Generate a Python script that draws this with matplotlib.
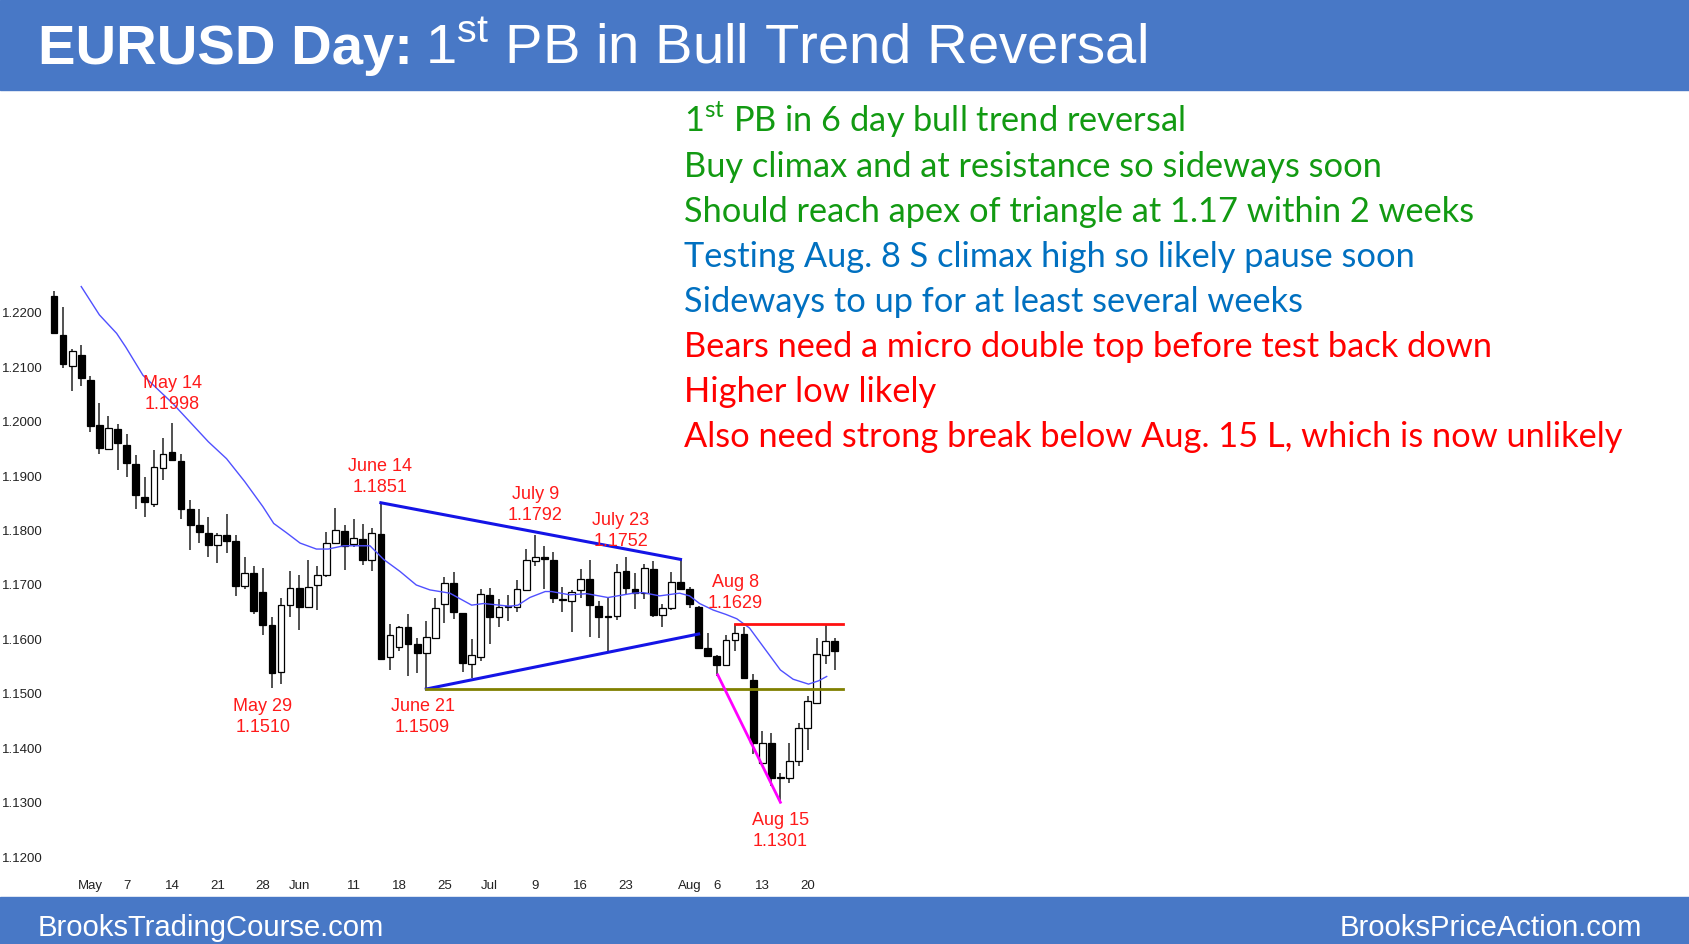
import matplotlib
matplotlib.use("Agg")
import matplotlib.pyplot as plt
from matplotlib.patches import Rectangle

# ---------- data (EURUSD daily, Apr 25 - Aug 23 2018) ----------
opens = [1.2231, 1.2159, 1.2103, 1.2122, 1.2076, 1.1993, 1.1949, 1.1986, 1.1957, 1.1922,
         1.1861, 1.1848, 1.1915, 1.1944, 1.1928, 1.1839, 1.1810, 1.1796, 1.1774, 1.1792,
         1.1780, 1.1698, 1.1722, 1.1688, 1.1626, 1.1541, 1.1663, 1.1694, 1.1660, 1.1700,
         1.1718, 1.1777, 1.1800, 1.1775, 1.1785, 1.1745, 1.1793, 1.1567, 1.1587, 1.1623,
         1.1591, 1.1575, 1.1603, 1.1665, 1.1703, 1.1648, 1.1555, 1.1568, 1.1682, 1.1641,
         1.1660, 1.1659, 1.1691, 1.1744, 1.1752, 1.1746, 1.1674, 1.1671, 1.1690, 1.1711,
         1.1662, 1.1643, 1.1643, 1.1726, 1.1692, 1.1685, 1.1729, 1.1645, 1.1657, 1.1706,
         1.1692, 1.1660, 1.1585, 1.1570, 1.1554, 1.1599, 1.1610, 1.1526, 1.1374, 1.1410,
         1.1347, 1.1345, 1.1376, 1.1438, 1.1483, 1.1571, 1.1598]
highs = [1.2239, 1.2211, 1.2133, 1.2140, 1.2084, 1.2034, 1.2010, 1.1996, 1.1978, 1.1939,
         1.1899, 1.1947, 1.1969, 1.1998, 1.1941, 1.1856, 1.1839, 1.1825, 1.1796, 1.1830,
         1.1791, 1.1751, 1.1735, 1.1731, 1.1642, 1.1677, 1.1726, 1.1718, 1.1746, 1.1735,
         1.1797, 1.1841, 1.1811, 1.1821, 1.1812, 1.1804, 1.1851, 1.1628, 1.1625, 1.1647,
         1.1602, 1.1634, 1.1677, 1.1714, 1.1723, 1.1649, 1.1600, 1.1692, 1.1694, 1.1674,
         1.1682, 1.1710, 1.1767, 1.1792, 1.1771, 1.1760, 1.1697, 1.1691, 1.1729, 1.1746,
         1.1670, 1.1676, 1.1739, 1.1752, 1.1722, 1.1739, 1.1744, 1.1665, 1.1723, 1.1747,
         1.1697, 1.1661, 1.1611, 1.1571, 1.1609, 1.1629, 1.1622, 1.1537, 1.1432, 1.1429,
         1.1355, 1.1409, 1.1446, 1.1496, 1.1602, 1.1627, 1.1602]
lows = [1.2162, 1.2099, 1.2057, 1.2065, 1.1981, 1.1940, 1.1948, 1.1911, 1.1899, 1.1839,
        1.1824, 1.1844, 1.1893, 1.1927, 1.1822, 1.1764, 1.1778, 1.1752, 1.1740, 1.1759,
        1.1679, 1.1692, 1.1646, 1.1608, 1.1510, 1.1519, 1.1642, 1.1617, 1.1659, 1.1654,
        1.1714, 1.1775, 1.1728, 1.1770, 1.1736, 1.1726, 1.1564, 1.1544, 1.1578, 1.1532,
        1.1539, 1.1509, 1.1602, 1.1630, 1.1637, 1.1541, 1.1529, 1.1561, 1.1592, 1.1622,
        1.1633, 1.1651, 1.1690, 1.1735, 1.1692, 1.1667, 1.1651, 1.1614, 1.1676, 1.1604,
        1.1602, 1.1578, 1.1636, 1.1682, 1.1656, 1.1674, 1.1642, 1.1622, 1.1654, 1.1691,
        1.1657, 1.1584, 1.1567, 1.1532, 1.1554, 1.1578, 1.1529, 1.1390, 1.1374, 1.1331,
        1.1301, 1.1336, 1.1368, 1.1397, 1.1482, 1.1555, 1.1543]
closes = [1.2163, 1.2105, 1.2130, 1.2081, 1.1992, 1.1952, 1.1988, 1.1960, 1.1924, 1.1865,
          1.1853, 1.1917, 1.1941, 1.1929, 1.1839, 1.1810, 1.1798, 1.1774, 1.1792, 1.1780,
          1.1698, 1.1722, 1.1652, 1.1626, 1.1539, 1.1664, 1.1694, 1.1660, 1.1696, 1.1718,
          1.1777, 1.1801, 1.1772, 1.1787, 1.1746, 1.1795, 1.1565, 1.1608, 1.1623, 1.1592,
          1.1576, 1.1604, 1.1657, 1.1703, 1.1651, 1.1556, 1.1571, 1.1683, 1.1641, 1.1660,
          1.1662, 1.1692, 1.1745, 1.1751, 1.1747, 1.1677, 1.1673, 1.1687, 1.1711, 1.1663,
          1.1642, 1.1641, 1.1723, 1.1694, 1.1685, 1.1731, 1.1645, 1.1657, 1.1706, 1.1692,
          1.1666, 1.1585, 1.1570, 1.1554, 1.1599, 1.1611, 1.1529, 1.1410, 1.1410, 1.1345,
          1.1345, 1.1377, 1.1438, 1.1487, 1.1573, 1.1598, 1.1578]

# moving average line, read at points along the curve (bar index, price)
ma_x = [3, 5, 6.9, 7.9, 9.8, 13.1, 17, 19, 21, 23, 24.2, 25.6, 27.1, 28.9, 30.2, 31.9,
        34.8, 36.3, 38.1, 39.9, 41.4, 43.6, 46, 47.3, 50.2, 51.1, 52.4, 54.1, 54.8, 56.8,
        58.7, 61, 63.8, 64.9, 66.7, 68.9, 70, 71.1, 72.6, 74, 75.2, 76.6, 78.1, 80, 81.4,
        83.1, 84.2, 85.1]
ma_y = [1.2248, 1.2196, 1.2162, 1.2137, 1.2085, 1.2033, 1.1963, 1.1932, 1.1890, 1.1844,
        1.1813, 1.1796, 1.1777, 1.1766, 1.1766, 1.1772, 1.1772, 1.1747, 1.1725, 1.1700,
        1.1691, 1.1685, 1.1663, 1.1666, 1.1661, 1.1663, 1.1677, 1.1688, 1.1688, 1.1682,
        1.1684, 1.1677, 1.1685, 1.1686, 1.1680, 1.1685, 1.1680, 1.1666, 1.1654, 1.1646,
        1.1638, 1.1621, 1.1587, 1.1544, 1.1527, 1.1518, 1.1524, 1.1532]

# drawn trend lines (bar index pairs, price pairs)
tri_top_x, tri_top_y = [36, 69], [1.1851, 1.1747]
tri_bot_x, tri_bot_y = [41, 71], [1.1509, 1.1610]
res_x, res_y = [75, 86.9], [1.1629, 1.1629]
sup_x, sup_y = [41, 86.9], [1.1509, 1.1509]
wedge_x, wedge_y = [73.1, 80], [1.1535, 1.1301]

# x axis labels (bar index of each label)
xtick_pos = [4, 8, 13, 18, 23, 27, 33, 38, 43, 48, 53, 58, 63, 70, 73, 78, 83]
xtick_lab = ["May", "7", "14", "21", "28", "Jun", "11", "18", "25", "Jul", "9", "16",
             "23", "Aug", "6", "13", "20"]
ytick_pos = [1.12, 1.13, 1.14, 1.15, 1.16, 1.17, 1.18, 1.19, 1.20, 1.21, 1.22]

# swing high / low callouts
callouts = ["May 14\n1.1998", "June 14\n1.1851", "July 9\n1.1792", "July 23\n1.1752",
            "Aug 8\n1.1629", "May 29\n1.1510", "June 21\n1.1509", "Aug 15\n1.1301"]
callout_x = [13.0, 35.9, 53.0, 62.4, 75.05, 23.0, 40.6, 80.0]
callout_y = [1.2050, 1.1898, 1.1847, 1.1799, 1.1685, 1.1457, 1.1457, 1.1248]

notes = ["1$^{\\mathregular{st}}$ PB in 6 day bull trend reversal",
         "Buy climax and at resistance so sideways soon",
         "Should reach apex of triangle at 1.17 within 2 weeks",
         "Testing Aug. 8 S climax high so likely pause soon",
         "Sideways to up for at least several weeks",
         "Bears need a micro double top before test back down",
         "Higher low likely",
         "Also need strong break below Aug. 15 L, which is now unlikely"]
GREEN, BLUE, RED = "#129a12", "#0070C0", "#FF0000"
note_colors = [GREEN, GREEN, GREEN, BLUE, BLUE, RED, RED, RED]

# ---------- figure ----------
W, H = 1689, 944
BAR = "#4878C6"
fig = plt.figure(figsize=(W / 100, H / 100), dpi=100)
fig.patch.set_facecolor("white")
fig.patches.append(Rectangle((0, 1 - 90 / H), 1, 90 / H, transform=fig.transFigure,
                             color=BAR, zorder=0))
fig.patches.append(Rectangle((0, 0), 1, 47 / H, transform=fig.transFigure,
                             color=BAR, zorder=0))

ax = fig.add_axes([48 / W, (H - 872) / H, (W - 48) / W, (872 - 92) / H])
ax.set_xlim(-0.66, 180.07)
ax.set_ylim(1.1173, 1.1173 + (872 - 92) / 5446)
for s in ax.spines.values():
    s.set_visible(False)
ax.patch.set_alpha(0)

idx = list(range(len(opens)))
ax.vlines(idx, lows, highs, color="#333333", linewidth=1.2, zorder=2)
bodies = [abs(c - o) for o, c in zip(opens, closes)]
bottoms = [min(o, c) for o, c in zip(opens, closes)]
fills = ["white" if c >= o else "black" for o, c in zip(opens, closes)]
ax.bar(idx, bodies, bottom=bottoms, width=0.74, color=fills, edgecolor="black",
       linewidth=0.9, zorder=3)

ax.plot(ma_x, ma_y, color="#5050FF", linewidth=1.0, zorder=4)
ax.plot(tri_top_x, tri_top_y, color="#1414E6", linewidth=2.2, zorder=5)
ax.plot(tri_bot_x, tri_bot_y, color="#1414E6", linewidth=2.2, zorder=5)
ax.plot(res_x, res_y, color="#FF1010", linewidth=2.0, zorder=5)
ax.plot(sup_x, sup_y, color="#808000", linewidth=2.0, zorder=5)
ax.plot(wedge_x, wedge_y, color="#FF00FF", linewidth=2.0, zorder=5)

for t, x, y in zip(callouts, callout_x, callout_y):
    ax.text(x, y, t, color="#FF1A1A", fontsize=13, family="Liberation Sans",
            ha="center", va="center", multialignment="center", linespacing=1.3, zorder=6)

ax.set_yticks(ytick_pos)
ax.set_yticklabels([f"{v:.4f}" for v in ytick_pos])
ax.set_xticks(xtick_pos)
ax.set_xticklabels(xtick_lab)
ax.tick_params(axis="both", length=0, labelsize=9.5, labelcolor="#222222")
ax.tick_params(axis="y", pad=4)
ax.tick_params(axis="x", pad=6)
for lab in ax.get_xticklabels() + ax.get_yticklabels():
    lab.set_family("Liberation Sans")

# ---------- text outside the axes ----------
renderer = fig.canvas.get_renderer()


def fy(px_from_top):
    return 1 - px_from_top / H


t1 = fig.text(38 / W, fy(63.5), "EURUSD Day:", color="white", fontsize=40.5,
              fontweight="bold", family="Liberation Sans", va="baseline")
w1 = t1.get_window_extent(renderer).width
t2 = fig.text((38 + w1 + 12) / W, fy(63.5), "1$^{\\mathregular{st}}$ PB in Bull Trend Reversal",
              color="white", fontsize=40.5, family="Liberation Sans", va="baseline")

f1 = fig.text(38 / W, fy(928), "BrooksTradingCourse.com", color="white", fontsize=20,
              family="Liberation Sans", va="center")
scale = 346 / f1.get_window_extent(renderer).width
f1.set_fontsize(20 * scale)
fig.text(1642 / W, fy(928), "BrooksPriceAction.com", color="white", fontsize=20 * scale,
         family="Liberation Sans", va="center", ha="right")

note_objs = []
for i, (t, c) in enumerate(zip(notes, note_colors)):
    note_objs.append(fig.text(684 / W, fy(131.7 + 45 * i), t, color=c, fontsize=24,
                              family="Lato", va="baseline"))
nscale = 941 / note_objs[-1].get_window_extent(renderer).width
for n in note_objs:
    n.set_fontsize(24 * nscale)

fig.savefig("out.png", dpi=100)
